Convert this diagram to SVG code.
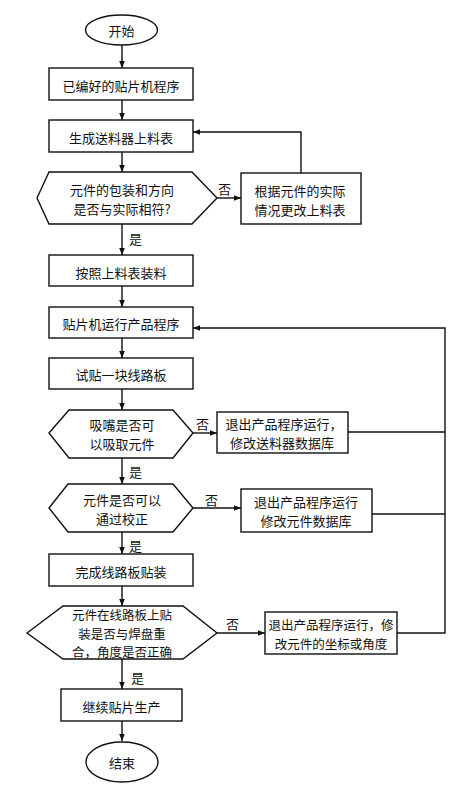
<svg xmlns="http://www.w3.org/2000/svg" width="467" height="786" viewBox="0 0 467 786">
<style>
.s{fill:#fff;stroke:#111;stroke-width:1.4}
.t{font-family:"Noto Sans CJK SC","Noto Sans",sans-serif;font-size:13px;fill:#111;text-anchor:middle;dominant-baseline:central}
.c{fill:none;stroke:#111;stroke-width:1.4}
.l{font-family:"Noto Sans CJK SC","Noto Sans",sans-serif;font-size:13px;fill:#111;dominant-baseline:central}
</style>
<defs>
<marker id="a" viewBox="0 0 10 10" refX="10" refY="5" markerWidth="7" markerHeight="7" markerUnits="userSpaceOnUse" orient="auto">
<path d="M0,1 L10,5 L0,9 z" fill="#111"/>
</marker>
</defs>
<rect width="467" height="786" fill="#fff"/>
<g id="connectors">
<path class="c" d="M122,45 V68" marker-end="url(#a)"/>
<path class="c" d="M122,100 V120" marker-end="url(#a)"/>
<path class="c" d="M122,152 V172" marker-end="url(#a)"/>
<path class="c" d="M217,198 H241" marker-end="url(#a)"/>
<path class="c" d="M301,173 V132 H193" marker-end="url(#a)"/>
<path class="c" d="M122,224 V255" marker-end="url(#a)"/>
<path class="c" d="M122,286 V307" marker-end="url(#a)"/>
<path class="c" d="M122,338 V358" marker-end="url(#a)"/>
<path class="c" d="M122,389 V410" marker-end="url(#a)"/>
<path class="c" d="M193,433 H217" marker-end="url(#a)"/>
<path class="c" d="M348,432 H445"/>
<path class="c" d="M122,458 V484" marker-end="url(#a)"/>
<path class="c" d="M193,508 H241" marker-end="url(#a)"/>
<path class="c" d="M372,514 H445"/>
<path class="c" d="M122,532 V554" marker-end="url(#a)"/>
<path class="c" d="M122,586 V606" marker-end="url(#a)"/>
<path class="c" d="M217,633 H265" marker-end="url(#a)"/>
<path class="c" d="M397,633 H445 V328 H193" marker-end="url(#a)"/>
<path class="c" d="M122,659 V689" marker-end="url(#a)"/>
<path class="c" d="M122,721 V741" marker-end="url(#a)"/>
<text class="l" x="218" y="188">否</text>
<text class="l" x="129" y="238">是</text>
<text class="l" x="196" y="423">否</text>
<text class="l" x="129" y="471">是</text>
<text class="l" x="205" y="499">否</text>
<text class="l" x="129" y="545">是</text>
<text class="l" x="226" y="623">否</text>
<text class="l" x="131" y="677">是</text>
</g>
<g id="start"><ellipse class="s" cx="121.5" cy="30" rx="36" ry="15"/><text class="t" x="121.5" y="30">开始</text></g>
<g id="n1"><rect class="s" x="49" y="68" width="144" height="32"/><text class="t" x="121" y="85">已编好的贴片机程序</text></g>
<g id="n2"><rect class="s" x="49" y="120" width="144" height="32"/><text class="t" x="121" y="137">生成送料器上料表</text></g>
<g id="d1"><polygon class="s" points="37,198 49,172 192,172 217,198 192,224 49,224"/><text class="t" x="122" y="189.5">元件的包装和方向</text><text class="t" x="122" y="208.5">是否与实际相符?</text></g>
<g id="r1"><rect class="s" x="241" y="173" width="120" height="51"/><text class="t" x="300" y="190">根据元件的实际</text><text class="t" x="300" y="209">情况更改上料表</text></g>
<g id="n3"><rect class="s" x="49" y="255" width="144" height="31"/><text class="t" x="121" y="272">按照上料表装料</text></g>
<g id="n4"><rect class="s" x="49" y="307" width="144" height="31"/><text class="t" x="121" y="323">贴片机运行产品程序</text></g>
<g id="n5"><rect class="s" x="49" y="358" width="144" height="31"/><text class="t" x="121" y="374">试贴一块线路板</text></g>
<g id="d2"><polygon class="s" points="49,433 69,410 173,410 193,433 173,458 69,458"/><text class="t" x="122" y="424">吸嘴是否可</text><text class="t" x="122" y="443">以吸取元件</text></g>
<g id="r2"><rect class="s" x="217" y="412" width="131" height="41"/><text class="t" x="284" y="423">退出产品程序运行，</text><text class="t" x="282" y="442">修改送料器数据库</text></g>
<g id="d3"><polygon class="s" points="49,508 68,484 173,484 193,508 173,532 68,532"/><text class="t" x="122" y="499">元件是否可以</text><text class="t" x="122" y="518">通过校正</text></g>
<g id="r3"><rect class="s" x="241" y="489" width="131" height="43"/><text class="t" x="306" y="501">退出产品程序运行</text><text class="t" x="306" y="520">修改元件数据库</text></g>
<g id="n6"><rect class="s" x="49" y="554" width="144" height="32"/><text class="t" x="121" y="571">完成线路板贴装</text></g>
<g id="d4"><polygon class="s" points="27,633 63,606 183,606 217,633 183,659 63,659"/><text class="t" x="122" y="614.5" style="font-size:12.5px">元件在线路板上贴</text><text class="t" x="122" y="633" style="font-size:12.5px">装是否与焊盘重</text><text class="t" x="122" y="651.5" style="font-size:12.5px">合，角度是否正确</text></g>
<g id="r4"><rect class="s" x="265" y="612" width="132" height="42"/><text class="t" x="331" y="624" style="font-size:12.5px">退出产品程序运行，修</text><text class="t" x="331" y="643" style="font-size:12.5px">改元件的坐标或角度</text></g>
<g id="n7"><rect class="s" x="61" y="689" width="121" height="32"/><text class="t" x="121.5" y="706">继续贴片生产</text></g>
<g id="end"><ellipse class="s" cx="122" cy="762" rx="36" ry="20"/><text class="t" x="122" y="762">结束</text></g>
</svg>
